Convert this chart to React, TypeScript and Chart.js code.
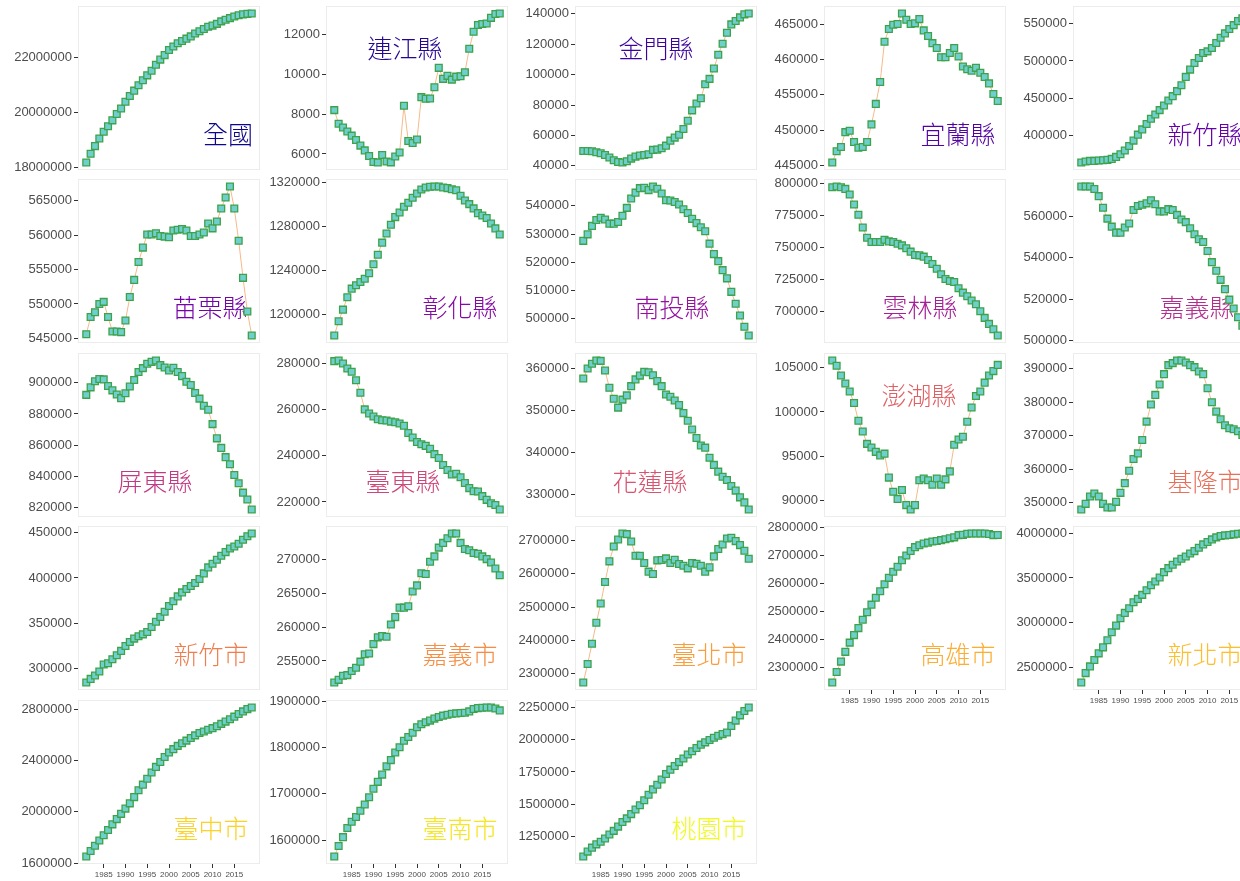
import React, { useEffect, useRef } from "react";
import { Chart, registerables } from "chart.js";

Chart.register(...registerables);

// Year-end registered population, 1981–2019
const years = [
  1981, 1982, 1983, 1984, 1985, 1986, 1987, 1988, 1989, 1990,
  1991, 1992, 1993, 1994, 1995, 1996, 1997, 1998, 1999, 2000,
  2001, 2002, 2003, 2004, 2005, 2006, 2007, 2008, 2009, 2010,
  2011, 2012, 2013, 2014, 2015, 2016, 2017, 2018, 2019,
];
const yearTicks = [1985, 1990, 1995, 2000, 2005, 2010, 2015];

const national = [18193955, 18515754, 18790538, 19069194, 19313825, 19509082, 19725010, 19954397, 20156587, 20401305, 20605831, 20802622, 20995416, 21177874, 21357431, 21525433, 21742815, 21928591, 22092387, 22276672, 22405568, 22520776, 22604550, 22689122, 22770383, 22876527, 22958360, 23037031, 23119772, 23162123, 23224912, 23315822, 23373517, 23433753, 23492074, 23539816, 23571227, 23588932, 23603121];
const lienchiang = [8200, 7520, 7330, 7130, 6920, 6700, 6420, 6180, 5900, 5600, 5570, 5950, 5620, 5580, 5870, 6070, 8420, 6650, 6550, 6730, 8850, 8770, 8780, 9350, 10320, 9770, 9920, 9730, 9880, 9900, 10100, 11280, 12130, 12470, 12520, 12550, 12830, 13020, 13050];
const kinmen = [49800, 49800, 49600, 49000, 48300, 47200, 45500, 43700, 42600, 42200, 43100, 44800, 46100, 46800, 47200, 47600, 50500, 50700, 51600, 53300, 56600, 58600, 60500, 64200, 69700, 76500, 81000, 84500, 93700, 97200, 104000, 113100, 120300, 127500, 133000, 135200, 137600, 139600, 140200];
const yilan = [445400, 447000, 447600, 449700, 449900, 448300, 447500, 447600, 448300, 450800, 453700, 456800, 462500, 464300, 464900, 465000, 466500, 465600, 465000, 465100, 465700, 464100, 463300, 462300, 461600, 460300, 460300, 460900, 461600, 460400, 459000, 458600, 458400, 458800, 458100, 457500, 456600, 455100, 454100];
const hsinchuCounty = [363400, 364700, 365600, 365600, 366100, 366500, 367000, 368300, 371000, 374600, 379500, 385700, 392900, 400900, 408000, 415200, 422300, 428100, 433900, 440200, 446900, 452700, 459400, 467400, 478600, 488400, 497300, 504000, 510700, 512900, 517400, 524100, 531300, 537100, 542900, 548200, 553600, 557500, 563900];
const miaoli = [545600, 548100, 548800, 550000, 550300, 548100, 546000, 546000, 545900, 547600, 551000, 553500, 556100, 558200, 560100, 560100, 560300, 559900, 559800, 559700, 560700, 560800, 560900, 560700, 559900, 559900, 560100, 560400, 561700, 561000, 562000, 563900, 565500, 567100, 563900, 559200, 553800, 548900, 545400];
const changhua = [1180900, 1193900, 1204500, 1215800, 1223600, 1226700, 1229700, 1232700, 1237600, 1245800, 1254500, 1265500, 1273900, 1281800, 1288800, 1293000, 1298200, 1301800, 1306400, 1310300, 1313900, 1315800, 1316400, 1316700, 1316700, 1315800, 1315200, 1314200, 1313300, 1308200, 1303900, 1300600, 1296700, 1292400, 1290300, 1287900, 1283000, 1278500, 1273000];
const nantou = [527600, 529900, 532900, 535000, 535800, 535200, 533700, 533700, 534300, 536500, 539300, 542600, 544700, 546300, 546400, 545600, 546900, 546100, 544400, 542000, 541900, 541400, 540500, 538800, 537500, 535400, 533900, 532400, 531000, 526600, 522900, 520400, 517200, 514300, 509500, 505300, 501100, 497100, 494000];
const yunlin = [797100, 797700, 797100, 795800, 791400, 783600, 775600, 765700, 757700, 754300, 754300, 754300, 756100, 754800, 754300, 753000, 751700, 749400, 746800, 744200, 743900, 742900, 740300, 737100, 733500, 729100, 725500, 723900, 723100, 718200, 714800, 712000, 708600, 705700, 700300, 695100, 690400, 686200, 681300];
const chiayiCounty = [574600, 574600, 574600, 573400, 569900, 564300, 559000, 555100, 552200, 552200, 554700, 556600, 563200, 565100, 565700, 566400, 567900, 566000, 562500, 562500, 563600, 563200, 560800, 558600, 557300, 554300, 551400, 549000, 547700, 543300, 537900, 533700, 529300, 524800, 519700, 515400, 511200, 507100, 502300];
const pingtung = [892200, 897000, 900900, 902300, 902100, 897900, 895100, 892400, 890100, 893200, 897500, 901700, 906800, 909300, 912100, 913300, 914200, 911200, 909700, 907800, 909500, 906800, 904200, 900600, 898500, 893400, 889800, 885200, 882700, 873500, 864400, 858300, 852400, 847900, 841000, 835700, 829700, 825300, 818900];
const taitung = [281000, 281300, 280000, 277800, 276400, 272700, 267300, 260100, 258300, 257000, 255800, 255400, 255300, 254800, 254500, 254000, 253000, 249900, 247900, 246000, 245000, 244300, 243000, 240700, 239000, 236000, 233800, 231900, 232200, 230700, 228200, 226000, 224600, 224500, 222500, 220900, 219400, 218700, 216700];
const hualien = [357600, 360000, 361100, 361900, 361800, 359500, 355400, 352800, 350700, 352600, 353600, 355800, 357400, 358300, 359200, 359100, 358400, 357000, 355800, 353800, 353300, 352400, 351300, 349400, 347600, 345500, 343500, 341700, 341200, 338800, 337100, 335500, 334300, 333500, 332100, 331000, 329400, 328200, 326500];
const penghu = [105800, 105200, 104100, 103200, 102300, 101000, 99000, 97800, 96400, 96000, 95500, 95100, 95300, 92600, 91000, 90200, 91200, 89500, 89000, 89500, 92300, 92500, 92300, 91800, 92500, 91800, 92400, 93300, 96300, 96900, 97200, 98900, 100500, 101800, 102300, 103300, 104100, 104600, 105300];
const keelung = [347900, 349600, 351800, 352700, 351800, 349600, 348500, 348500, 350200, 352900, 355800, 359500, 363000, 364700, 368700, 374200, 379300, 382200, 385300, 388400, 391100, 391700, 392500, 392500, 391900, 391100, 390500, 389200, 388400, 384200, 380000, 377200, 374900, 373100, 372200, 371900, 371300, 370200, 367600];
const hsinchuCity = [285000, 289000, 292700, 297100, 304800, 306200, 310600, 315000, 319800, 325200, 329600, 333300, 335900, 338000, 340600, 346100, 351900, 357100, 362900, 369100, 374300, 379700, 384100, 387800, 391100, 394400, 398800, 405000, 411600, 415600, 420000, 424400, 428400, 432400, 434600, 437500, 441900, 445900, 448900];
const chiayiCity = [251800, 252200, 252800, 252900, 253500, 254000, 254900, 256000, 256100, 257500, 258500, 258700, 258600, 260400, 261500, 262900, 262900, 263100, 265300, 266200, 268000, 267900, 269700, 270500, 271800, 272500, 273200, 273900, 273900, 272500, 271600, 271400, 271000, 270900, 270500, 270100, 269600, 268700, 267700];
const taipei = [2273100, 2328900, 2389800, 2452600, 2510500, 2575300, 2637200, 2682000, 2703000, 2721000, 2719000, 2697000, 2654100, 2654100, 2632200, 2606200, 2599300, 2640200, 2641200, 2646100, 2632200, 2642200, 2629200, 2624200, 2616200, 2632200, 2630200, 2624200, 2606200, 2619200, 2652100, 2674100, 2688000, 2706000, 2708000, 2698000, 2686000, 2669100, 2645100];
const kaohsiung = [2245000, 2283000, 2320000, 2355000, 2388000, 2415000, 2440000, 2470000, 2497000, 2524000, 2549000, 2572000, 2597000, 2620000, 2642000, 2660000, 2683000, 2700000, 2716000, 2730000, 2737000, 2743000, 2746000, 2750000, 2752000, 2755000, 2758000, 2762000, 2765000, 2773000, 2774000, 2778000, 2779000, 2779000, 2779000, 2779000, 2777000, 2773000, 2773500];
const newTaipei = [2335000, 2440400, 2514900, 2585600, 2660100, 2727100, 2805300, 2894600, 2969100, 3051000, 3110600, 3162700, 3229700, 3266900, 3311600, 3363700, 3419600, 3460500, 3505200, 3564800, 3609400, 3646700, 3683900, 3713700, 3739800, 3773300, 3799300, 3836600, 3873800, 3899900, 3929600, 3952000, 3966900, 3974300, 3978000, 3985500, 3993000, 3995000, 3995700];
const taichung = [1651300, 1694900, 1735900, 1776900, 1818000, 1859000, 1902600, 1943600, 1984600, 2025600, 2066700, 2115400, 2169200, 2212800, 2259000, 2307700, 2351300, 2389700, 2428200, 2464100, 2489700, 2515400, 2535900, 2556400, 2576900, 2597400, 2615400, 2628200, 2641000, 2653800, 2669200, 2687200, 2705100, 2723100, 2743600, 2764100, 2784600, 2802600, 2815400];
const tainan = [1564500, 1587200, 1606400, 1626300, 1639800, 1649800, 1663300, 1676800, 1692400, 1710900, 1725800, 1741400, 1759200, 1772700, 1789100, 1800400, 1814600, 1822500, 1831700, 1843800, 1850200, 1854400, 1858000, 1862300, 1865800, 1868700, 1870800, 1872900, 1873600, 1874300, 1875100, 1877900, 1882900, 1885000, 1885700, 1886400, 1886400, 1884300, 1880000];
const taoyuan = [1094400, 1132700, 1163300, 1188800, 1209200, 1234700, 1265300, 1293400, 1326500, 1362200, 1390300, 1423500, 1459200, 1492400, 1530600, 1574000, 1614800, 1650500, 1691300, 1734700, 1767900, 1795900, 1826500, 1854600, 1885200, 1910700, 1936200, 1961700, 1979600, 1997500, 2015300, 2030600, 2043400, 2056100, 2107100, 2148000, 2188800, 2221900, 2250000];

// Region names, in panel order
const regions = [
  "全國", "連江縣", "金門縣", "宜蘭縣", "新竹縣",
  "苗栗縣", "彰化縣", "南投縣", "雲林縣", "嘉義縣",
  "屏東縣", "臺東縣", "花蓮縣", "澎湖縣", "基隆市",
  "新竹市", "嘉義市", "臺北市", "高雄市", "新北市",
  "臺中市", "臺南市", "桃園市",
];
const seriesList = [
  national, lienchiang, kinmen, yilan, hsinchuCounty,
  miaoli, changhua, nantou, yunlin, chiayiCounty,
  pingtung, taitung, hualien, penghu, keelung,
  hsinchuCity, chiayiCity, taipei, kaohsiung, newTaipei,
  taichung, tainan, taoyuan,
];

// Y-axis tick labels per panel
const yTickList = [
  [18000000, 20000000, 22000000],
  [6000, 8000, 10000, 12000],
  [40000, 60000, 80000, 100000, 120000, 140000],
  [445000, 450000, 455000, 460000, 465000],
  [400000, 450000, 500000, 550000],
  [545000, 550000, 555000, 560000, 565000],
  [1200000, 1240000, 1280000, 1320000],
  [500000, 510000, 520000, 530000, 540000],
  [700000, 725000, 750000, 775000, 800000],
  [500000, 520000, 540000, 560000],
  [820000, 840000, 860000, 880000, 900000],
  [220000, 240000, 260000, 280000],
  [330000, 340000, 350000, 360000],
  [90000, 95000, 100000, 105000],
  [350000, 360000, 370000, 380000, 390000],
  [300000, 350000, 400000, 450000],
  [255000, 260000, 265000, 270000],
  [2300000, 2400000, 2500000, 2600000, 2700000],
  [2300000, 2400000, 2500000, 2600000, 2700000, 2800000],
  [2500000, 3000000, 3500000, 4000000],
  [1600000, 2000000, 2400000, 2800000],
  [1600000, 1700000, 1800000, 1900000],
  [1250000, 1500000, 1750000, 2000000, 2250000],
];

// Name placement inside each panel: [x offset, y offset] from the plot's top-left
const namePlacement: [number, number][] = [
  [150, 128], [79, 42], [81, 42], [134, 128], [132, 128],
  [132, 128], [134, 128], [97, 128], [96, 128], [124, 128],
  [77, 128], [77, 128], [75, 128], [95, 42], [132, 128],
  [133, 128], [134, 128], [134, 128], [134, 128], [132, 128],
  [133, 128], [134, 128], [134, 128],
];

const COLS = 5;
const COL_LEFT = [78, 326, 575, 824, 1073];
const ROW_TOP = [6, 179, 353, 526, 700];
const PLOT_W = 182;
const PLOT_H = 164;
const Y_AXIS_W = 80;
const PAD_T = 10;
const PAD_R = 10;
const PAD_B = 10;
const X_AXIS_H = 20;

const TICK_FONT = "'Liberation Sans', Arial, sans-serif";
const NAME_FONT = "'Noto Sans CJK TC', 'Noto Sans CJK SC', sans-serif";
const TEXT_GREY = "#4d4d4d";
const TICK_MARK = "#333333";
const POINT_FILL = "#6fcfcf";
const POINT_EDGE = "#3ea24a";
const LINE_COLOR = "#f6b98a";
const FRAME = "#ececec";

// Plasma colour ramp
const PLASMA = [
  "#0d0887", "#41049d", "#6a00a8", "#8f0da4", "#b12a90", "#cc4778",
  "#e16462", "#f2844b", "#fca636", "#fcce25", "#f0f921",
];
function plasma(t: number): string {
  const p = Math.min(Math.max(t, 0), 1) * (PLASMA.length - 1);
  const i = Math.min(Math.floor(p), PLASMA.length - 2);
  const f = p - i;
  const a = PLASMA[i], b = PLASMA[i + 1];
  const ch = (s: string, k: number) => parseInt(s.slice(1 + 2 * k, 3 + 2 * k), 16);
  const mix = [0, 1, 2].map((k) => Math.round(ch(a, k) + (ch(b, k) - ch(a, k)) * f));
  return "rgb(" + mix.join(",") + ")";
}

function isBottomOfColumn(idx: number): boolean {
  return idx + COLS >= regions.length;
}

function Panel({ idx }: { idx: number }) {
  const ref = useRef<HTMLCanvasElement | null>(null);
  const col = idx % COLS;
  const row = Math.floor(idx / COLS);
  const showX = isBottomOfColumn(idx);
  const width = Y_AXIS_W + PLOT_W + PAD_R;
  const height = PAD_T + PLOT_H + (showX ? X_AXIS_H : PAD_B);

  useEffect(() => {
    const canvas = ref.current;
    if (!canvas) return;
    const values = seriesList[idx];
    const lo = Math.min(...values);
    const hi = Math.max(...values);
    const span = hi - lo;
    const color = plasma(idx / (regions.length - 1));
    const [nx, ny] = namePlacement[idx];
    const first = years[0];
    const last = years[years.length - 1];

    const framePlugin = {
      id: "panelFrame",
      beforeDatasetsDraw(chart: any) {
        const { ctx, chartArea: a } = chart;
        ctx.save();
        ctx.strokeStyle = FRAME;
        ctx.lineWidth = 1;
        ctx.strokeRect(a.left + 0.5, a.top + 0.5, a.right - a.left - 1, a.bottom - a.top - 1);
        ctx.font = "300 25px " + NAME_FONT;
        ctx.fillStyle = color;
        ctx.textAlign = "center";
        ctx.textBaseline = "middle";
        ctx.fillText(regions[idx], a.left + nx, a.top + ny);
        ctx.restore();
      },
    };

    const chart = new Chart(canvas, {
      type: "line",
      data: {
        datasets: [
          {
            data: years.map((y, i) => ({ x: y, y: values[i] })),
            borderColor: LINE_COLOR,
            borderWidth: 1,
            pointStyle: "rect",
            pointRadius: 4.8,
            pointBackgroundColor: POINT_FILL,
            pointBorderColor: POINT_EDGE,
            pointBorderWidth: 1.3,
            tension: 0,
            clip: false,
          } as any,
        ],
      },
      options: {
        animation: false,
        responsive: false,
        events: [],
        layout: { padding: { left: 0, top: PAD_T, right: PAD_R, bottom: showX ? 0 : PAD_B } },
        plugins: { legend: { display: false }, tooltip: { enabled: false } },
        scales: {
          x: {
            type: "linear",
            min: first - (last - first) * 0.05,
            max: last + (last - first) * 0.05,
            display: showX,
            afterBuildTicks: (s: any) => {
              s.ticks = yearTicks.map((v) => ({ value: v }));
            },
            afterFit: (s: any) => {
              s.height = showX ? X_AXIS_H : 0;
            },
            ticks: {
              callback: (v: any) => String(v),
              font: { size: 8, family: TICK_FONT },
              color: TEXT_GREY,
              padding: 2,
              maxRotation: 0,
              autoSkip: false,
            },
            grid: {
              drawOnChartArea: false,
              drawTicks: true,
              tickLength: 4,
              tickColor: TICK_MARK,
              tickWidth: 1,
            },
            border: { display: false },
          },
          y: {
            type: "linear",
            min: lo - span * 0.05,
            max: hi + span * 0.05,
            afterBuildTicks: (s: any) => {
              s.ticks = yTickList[idx].map((v) => ({ value: v }));
            },
            afterFit: (s: any) => {
              s.width = Y_AXIS_W;
            },
            ticks: {
              callback: (v: any) => String(v),
              font: { size: 13, family: TICK_FONT },
              color: TEXT_GREY,
              padding: 2,
              autoSkip: false,
            },
            grid: {
              drawOnChartArea: false,
              drawTicks: true,
              tickLength: 4,
              tickColor: TICK_MARK,
              tickWidth: 1,
            },
            border: { display: false },
          },
        },
      } as any,
      plugins: [framePlugin],
    });
    return () => chart.destroy();
  }, [idx]);

  return (
    <canvas
      ref={ref}
      width={width}
      height={height}
      style={{
        position: "absolute",
        left: COL_LEFT[col] - Y_AXIS_W,
        top: ROW_TOP[row] - PAD_T,
        width,
        height,
      }}
    />
  );
}

export default function App() {
  return (
    <div
      style={{
        position: "fixed",
        left: 0,
        top: 0,
        width: 1240,
        height: 881,
        background: "#ffffff",
        overflow: "hidden",
      }}
    >
      {regions.map((_, i) => (
        <Panel key={i} idx={i} />
      ))}
    </div>
  );
}
